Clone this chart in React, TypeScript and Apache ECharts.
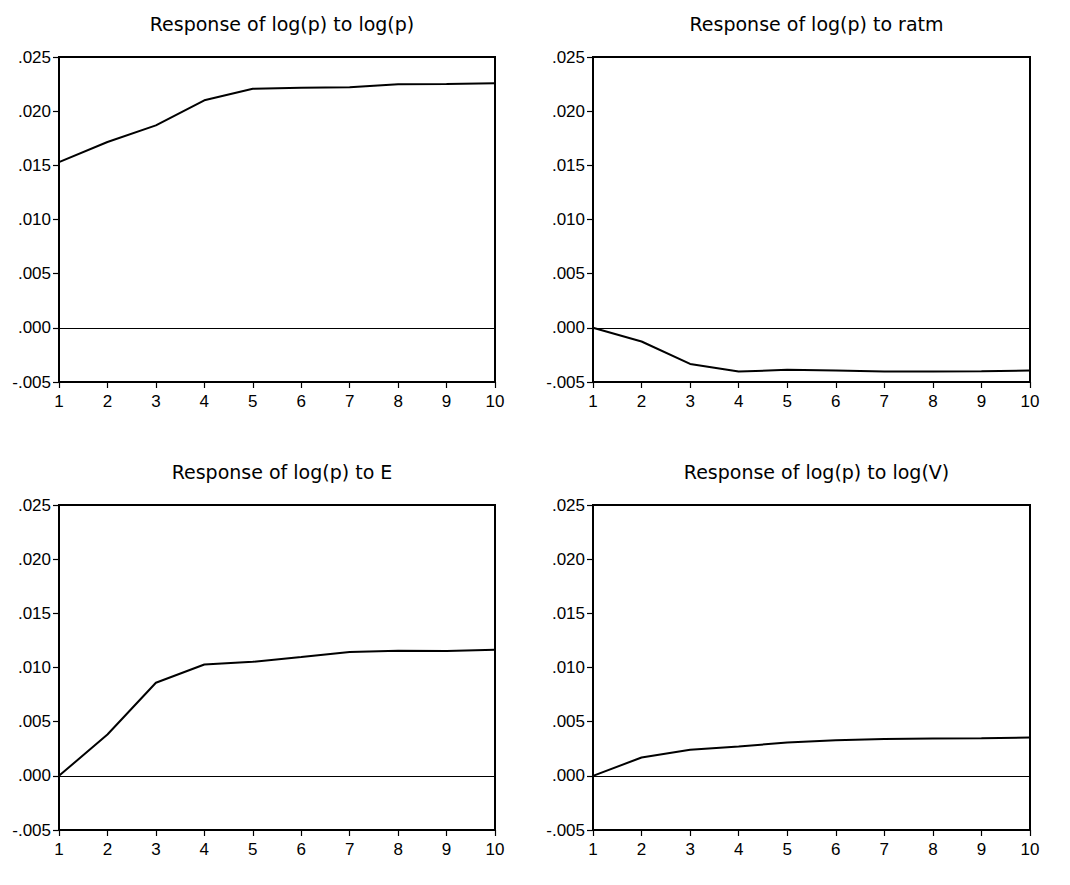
import React, { useEffect, useRef } from "react";
import * as echarts from "echarts";

const periods = [1, 2, 3, 4, 5, 6, 7, 8, 9, 10];
const titles = [
  "Response of log(p) to log(p)",
  "Response of log(p) to ratm",
  "Response of log(p) to E",
  "Response of log(p) to log(V)",
];
const respLogP = [0.0153, 0.01715, 0.01869, 0.0210, 0.02207, 0.02217, 0.0222, 0.02248, 0.0225, 0.02257];
const respRatm = [0, -0.00126, -0.00333, -0.00403, -0.00388, -0.00394, -0.00403, -0.00403, -0.0040, -0.00394];
const respE = [0, 0.00382, 0.00859, 0.01028, 0.01053, 0.01096, 0.01142, 0.01155, 0.01152, 0.01164];
const respLogV = [0, 0.00169, 0.0024, 0.00271, 0.00308, 0.00329, 0.00339, 0.00345, 0.00348, 0.00354];
const yMin = -0.005;
const yMax = 0.025;
const yStep = 0.005;

const FONT = "Liberation Sans, Arial, sans-serif";
const TITLE_FONT = "DejaVu Sans, sans-serif";

export default function App() {
  const ref = useRef<HTMLDivElement>(null);
  useEffect(() => {
    if (!ref.current) return;
    const chart = echarts.init(ref.current, null, { renderer: "svg" });
    const seriesData = [respLogP, respRatm, respE, respLogV];
    const grids = [
      { left: 59, top: 57, width: 436, height: 325 },
      { left: 593, top: 57, width: 437, height: 325 },
      { left: 59, top: 505, width: 436, height: 325 },
      { left: 593, top: 505, width: 437, height: 325 },
    ];
    const fmt = (v: number) => {
      const s = v.toFixed(3);
      return s.replace(/^(-?)0\./, "$1.");
    };
    chart.setOption({
      animation: false,
      backgroundColor: "#ffffff",
      title: grids.map((g, i) => ({
        text: titles[i],
        left: g.left + g.width / 2,
        top: g.top - 48,
        textAlign: "center",
        textStyle: { fontFamily: TITLE_FONT, fontSize: 19, fontWeight: "normal", color: "#000" },
      })),
      grid: grids.map((g) => ({
        ...g,
        show: true,
        borderColor: "#000",
        borderWidth: 2,
        backgroundColor: "transparent",
      })),
      xAxis: grids.map((_, i) => ({
        type: "value",
        gridIndex: i,
        min: 1,
        max: 10,
        interval: 1,
        axisLine: { show: true, onZero: false, lineStyle: { color: "#000", width: 2 } },
        axisTick: { show: true, length: 6, lineStyle: { color: "#000", width: 1.2 } },
        axisLabel: { color: "#000", fontFamily: FONT, fontSize: 17, margin: 11 },
        splitLine: { show: false },
      })),
      yAxis: grids.map((_, i) => ({
        type: "value",
        gridIndex: i,
        min: yMin,
        max: yMax,
        interval: yStep,
        axisLine: { show: true, onZero: false, lineStyle: { color: "#000", width: 2 } },
        axisTick: { show: true, length: 6, lineStyle: { color: "#000", width: 1.2 } },
        axisLabel: { color: "#000", fontFamily: FONT, fontSize: 17, margin: 8, formatter: fmt },
        splitLine: { show: false },
      })),
      series: seriesData.map((d, i) => ({
        type: "line",
        xAxisIndex: i,
        yAxisIndex: i,
        data: periods.map((p, j) => [p, d[j]]),
        symbol: "none",
        lineStyle: { color: "#000", width: 2 },
        markLine: {
          silent: true,
          symbol: "none",
          label: { show: false },
          lineStyle: { color: "#000", width: 1.2, type: "solid" },
          data: [{ yAxis: 0 }],
        },
      })),
    });
    return () => chart.dispose();
  }, []);
  return (
    <div
      ref={ref}
      style={{ position: "absolute", left: 0, top: 0, width: 1070, height: 885 }}
    />
  );
}
